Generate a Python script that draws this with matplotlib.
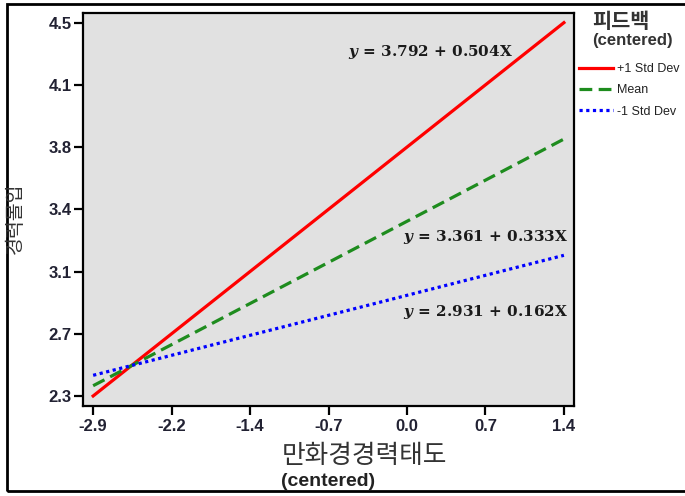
import numpy as np
import matplotlib
matplotlib.use("Agg")
import matplotlib.pyplot as plt
from matplotlib.patches import Rectangle

plt.rcParams['font.family'] = ['Liberation Sans', 'Noto Sans CJK KR', 'DejaVu Sans']
plt.rcParams['mathtext.fontset'] = 'custom'
plt.rcParams['mathtext.it'] = 'DejaVu Serif:italic:bold'
plt.rcParams['mathtext.rm'] = 'DejaVu Serif:bold'

# simple slopes of 경력몰입 on 만화경경력태도 at levels of 피드백
levels = ['+1 Std Dev', 'Mean', '-1 Std Dev']
intercepts = [3.792, 3.361, 2.931]
slopes = [0.504, 0.333, 0.162]
x_range = [-2.865, 1.395]

x_tick_labels = ['-2.9', '-2.2', '-1.4', '-0.7', '0.0', '0.7', '1.4']
y_tick_labels = ['2.3', '2.7', '3.1', '3.4', '3.8', '4.1', '4.5']

colors = ['#ff0000', '#1e8c1e', '#0000ff']
dash_styles = [None, (4, 2), (1, 1.1)]

fig = plt.figure(figsize=(6.85, 4.96), dpi=100)
ax = fig.add_axes([0.1212, 0.1815, 0.7168, 0.793])
ax.set_facecolor('#e1e1e1')

xs = np.array(x_range)
all_y = []
for lab, a, b, c, d in zip(levels, intercepts, slopes, colors, dash_styles):
    ys = a + b * xs
    all_y.extend(ys)
    line, = ax.plot(xs, ys, color=c, lw=2.3, label=lab)
    if d is not None:
        line.set_dashes(d)

# ticks span the drawn range, as in the original output
y_lo, y_hi = min(all_y), max(all_y)
xpad = (xs[1] - xs[0]) * 0.0215
ypad = (y_hi - y_lo) * 0.0268
ax.set_xlim(xs[0] - xpad, xs[1] + xpad)
ax.set_ylim(y_lo - ypad, y_hi + ypad)
ax.set_xticks(np.linspace(xs[0], xs[1], len(x_tick_labels)))
ax.set_xticklabels(x_tick_labels)
ax.set_yticks(np.linspace(y_lo, y_hi, len(y_tick_labels)))
ax.set_yticklabels(y_tick_labels)
ax.tick_params(axis='both', direction='out', length=6.5, width=1.6,
               labelsize=12, labelcolor='#222233')
ax.tick_params(axis='x', pad=3)
ax.tick_params(axis='y', pad=1.5)
for t in ax.get_xticklabels() + ax.get_yticklabels():
    t.set_fontweight('bold')
for s in ax.spines.values():
    s.set_linewidth(1.6)
    s.set_color('black')

# equations
eq_pos = [(0.876, 0.900), (0.988, 0.430), (0.988, 0.239)]
for (px, py), a, b in zip(eq_pos, intercepts, slopes):
    ax.text(px, py, r'$y$ = %.3f + %.3fX' % (a, b), transform=ax.transAxes,
            ha='right', va='center', fontsize=11, fontfamily='DejaVu Serif',
            fontweight='bold', color='#1a1a1a')

# axis labels
fig.text(0.411, 0.0806, '만화경경력태도', fontfamily='Noto Sans CJK KR',
         fontsize=18.5, color='#333333', ha='left', va='center')
fig.text(0.410, 0.030, '(centered)', fontsize=14, fontweight='bold',
         color='#222222', ha='left', va='center')
fig.text(0.022, 0.56, '경력몰입', fontfamily='Noto Sans CJK KR', fontsize=14,
         color='#333333', rotation=90, ha='center', va='center')

# legend
fig.text(0.864, 0.957, '피드백', fontfamily='Noto Sans CJK KR', fontsize=15,
         fontweight='bold', color='#333333', ha='left', va='center')
fig.text(0.864, 0.919, '(centered)', fontsize=12, fontweight='bold',
         color='#333333', ha='left', va='center')
fig.legend(loc='upper left', bbox_to_anchor=(0.845, 0.873), frameon=False,
           fontsize=9, handlelength=2.7, handletextpad=0.35, borderpad=0,
           borderaxespad=0, labelspacing=0.75, labelcolor='#222222')

# outer frame
fig.patches.append(Rectangle((7 / 685, 1 - 491 / 496), 1.1, 487 / 496,
                             transform=fig.transFigure, fill=False,
                             edgecolor='black', lw=2, clip_on=False))

fig.savefig('out.png', dpi=100)
